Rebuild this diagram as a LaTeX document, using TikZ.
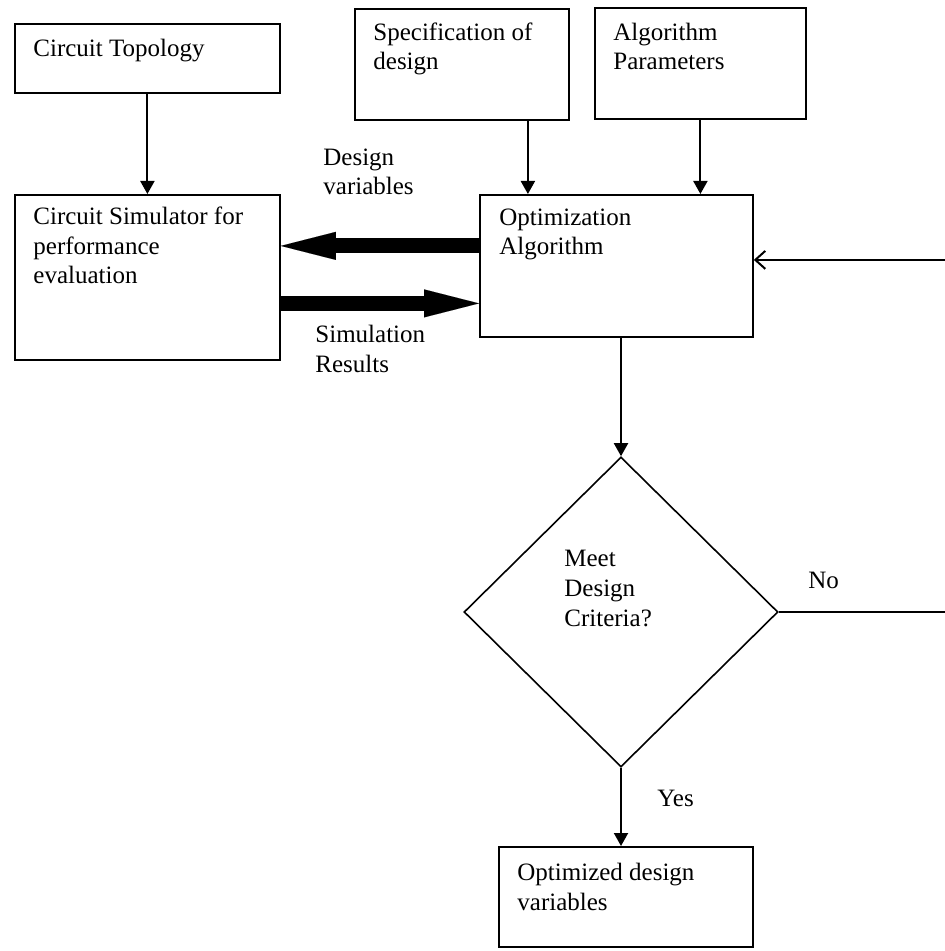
\documentclass[tikz,border=0pt]{standalone}
\usepackage{fontspec}
\setmainfont{Liberation Serif}
\usetikzlibrary{arrows.meta,shapes.geometric,calc}

\begin{document}
\begin{tikzpicture}[x=0.5pt,y=-0.5pt,
  box/.style={draw,line width=0.9pt,inner sep=0pt,anchor=north west},
  % multi-line texts are placed by the baseline of their last line
  txt/.style={anchor=base west,inner sep=0pt,align=left,
    font=\fontsize{12.5pt}{14.8pt}\selectfont},
  arr/.style={line width=1pt,-{Triangle[length=6.5pt,width=7pt]}},
  fat/.style={line width=7.5pt,-{Triangle[length=27.5pt,width=14pt,line width=0.01pt]}},
  back/.style={line width=1pt,-{Straight Barb[length=5pt,width=9pt,line width=1pt]}}]

\useasboundingbox (0,0) rectangle (944,951);

% blocks
\node[box,minimum width=132.5pt,minimum height=34.5pt] (topo) at (14,23) {};
\node[box,minimum width=107pt,minimum height=55.5pt] (spec) at (354,8) {};
\node[box,minimum width=105.5pt,minimum height=55.5pt] (algo) at (594,7) {};
\node[box,minimum width=132.5pt,minimum height=82.5pt] (sim) at (14,194) {};
\node[box,minimum width=136.5pt,minimum height=71pt] (opt) at (479,194) {};
\node[draw,line width=0.8pt,diamond,inner sep=0pt,
      minimum width=157pt,minimum height=155pt] (dia) at (621,612) {};
\node[box,minimum width=127pt,minimum height=50pt] (final) at (498,846) {};

% block texts
\node[txt] (topoT) at (33,57) {Circuit Topology};
\node[txt] (specT) at (373,70) {Specification of\\design};
\node[txt] (algoT) at (613,70) {Algorithm\\Parameters};
\node[txt] (simT) at (33,284) {Circuit Simulator for\\performance\\evaluation};
\node[txt] (optT) at (499,255) {Optimization\\Algorithm};
\node[txt] (diaT) at (564,626) {Meet\\Design\\Criteria?};
\node[txt] (finalT) at (517,910) {Optimized design\\variables};

% connector labels
\node[txt] (dvT) at (323,195) {Design\\variables};
\node[txt] (srT) at (315,372) {Simulation\\Results};
\node[txt] (noT) at (808,588) {No};
\node[txt] (yesT) at (657,806) {Yes};

% thin arrows
\draw[arr] (topo.south) -- (sim.north);
\coordinate (specOut) at ([xshift=33pt]spec.south);
\draw[arr] (specOut) -- (specOut |- opt.north);
\draw[arr] (algo.south) -- (algo.south |- opt.north);
\draw[arr] (dia.north |- opt.south) -- (dia.north);
\draw[arr] (dia.south) -- (dia.south |- final.north);

% data exchange between simulator and optimizer
\coordinate (dvA) at ([yshift=10pt]opt.west);
\coordinate (srA) at ([yshift=-13pt]sim.east);
\draw[fat] (dvA) -- (dvA -| sim.east);
\draw[fat] (srA) -- (srA -| opt.west);

% feedback loop when criteria are not met
\coordinate (edge) at (946,612);
\draw[back] (dia.east) -- (edge) |- ([yshift=3pt]opt.east);

\end{tikzpicture}
\end{document}
